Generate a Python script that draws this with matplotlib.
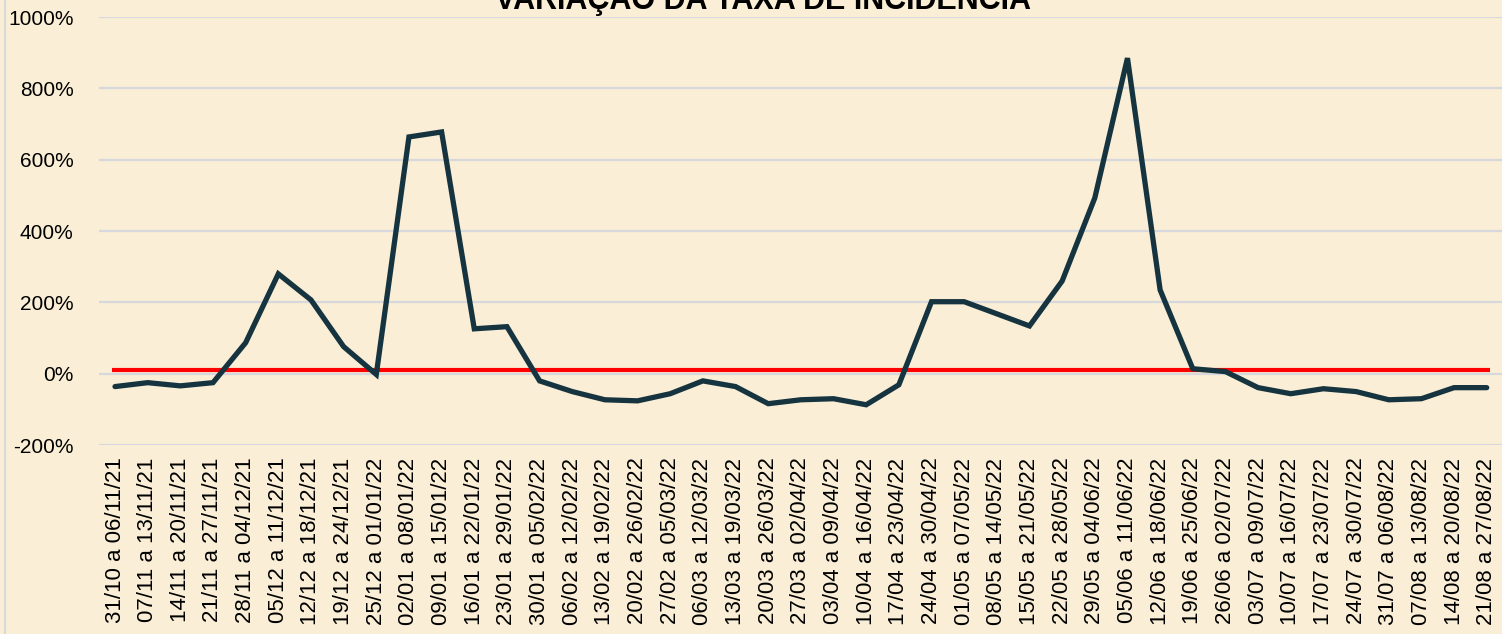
import numpy as np
import matplotlib
matplotlib.use("Agg")
import matplotlib.pyplot as plt
from matplotlib.ticker import FuncFormatter
from matplotlib.lines import Line2D

# semanas epidemiologicas
semanas = [
    "31/10 a 06/11/21", "07/11 a 13/11/21", "14/11 a 20/11/21", "21/11 a 27/11/21",
    "28/11 a 04/12/21", "05/12 a 11/12/21", "12/12 a 18/12/21", "19/12 a 24/12/21",
    "25/12 a 01/01/22", "02/01 a 08/01/22", "09/01 a 15/01/22", "16/01 a 22/01/22",
    "23/01 a 29/01/22", "30/01 a 05/02/22", "06/02 a 12/02/22", "13/02 a 19/02/22",
    "20/02 a 26/02/22", "27/02 a 05/03/22", "06/03 a 12/03/22", "13/03 a 19/03/22",
    "20/03 a 26/03/22", "27/03 a 02/04/22", "03/04 a 09/04/22", "10/04 a 16/04/22",
    "17/04 a 23/04/22", "24/04 a 30/04/22", "01/05 a 07/05/22", "08/05 a 14/05/22",
    "15/05 a 21/05/22", "22/05 a 28/05/22", "29/05 a 04/06/22", "05/06 a 11/06/22",
    "12/06 a 18/06/22", "19/06 a 25/06/22", "26/06 a 02/07/22", "03/07 a 09/07/22",
    "10/07 a 16/07/22", "17/07 a 23/07/22", "24/07 a 30/07/22", "31/07 a 06/08/22",
    "07/08 a 13/08/22", "14/08 a 20/08/22", "21/08 a 27/08/22",
]

# variacao da taxa de incidencia (%)
variacao = [
    -36, -25, -34, -25, 87, 280, 207, 76, -2, 664, 678, 126, 132, -20,
    -50, -73, -76, -56, -20, -36, -84, -73, -70, -87, -31, 202, 202, 168,
    134, 260, 493, 885, 235, 14, 6, -39, -56, -42, -50, -73, -70, -39, -39,
]

referencia = 10  # linha vermelha

y_ticks = [-200, 0, 200, 400, 600, 800, 1000]

fundo = "#FAEFD6"
plt.rcParams["font.family"] = ["Liberation Sans", "DejaVu Sans"]

fig = plt.figure(figsize=(15.02, 6.34), dpi=100, facecolor=fundo)
ax = fig.add_axes([0.0657, 0.298, 0.935, 0.675])
ax.set_facecolor(fundo)

x = np.arange(len(semanas))
for t in y_ticks:
    ax.axhline(t, color="#D6D8DE", linewidth=1.6, zorder=1)

ax.plot([x[0] - 0.1, x[-1] + 0.1], [referencia, referencia], color="#FF0000",
        linewidth=3, zorder=2, solid_capstyle="butt")
ax.plot(x, variacao, color="#16343F", linewidth=3.8, zorder=3,
        solid_capstyle="round", solid_joinstyle="miter")

ax.set_xlim(-0.5, len(semanas) - 0.5)
ax.set_ylim(-200, 1000)
ax.set_yticks(y_ticks)
ax.yaxis.set_major_formatter(FuncFormatter(lambda v, p: f"{v:.0f}%"))
ax.set_xticks(x)
ax.set_xticklabels(semanas, rotation=90, va="top", ha="center")
ax.tick_params(axis="y", length=0, pad=18, labelsize=15)
ax.tick_params(axis="x", length=0, pad=9, labelsize=16)
for s in ax.spines.values():
    s.set_visible(False)

fig.text(0.508, 1.002, "VARIAÇÃO DA TAXA DE INCIDÊNCIA", ha="center", va="center",
         fontsize=22, fontweight="bold", color="#000000")
fig.add_artist(Line2D([0.003, 0.003], [0, 1], color="#D9D9D9", linewidth=1.5))

fig.savefig("out.png", dpi=100, facecolor=fundo)
